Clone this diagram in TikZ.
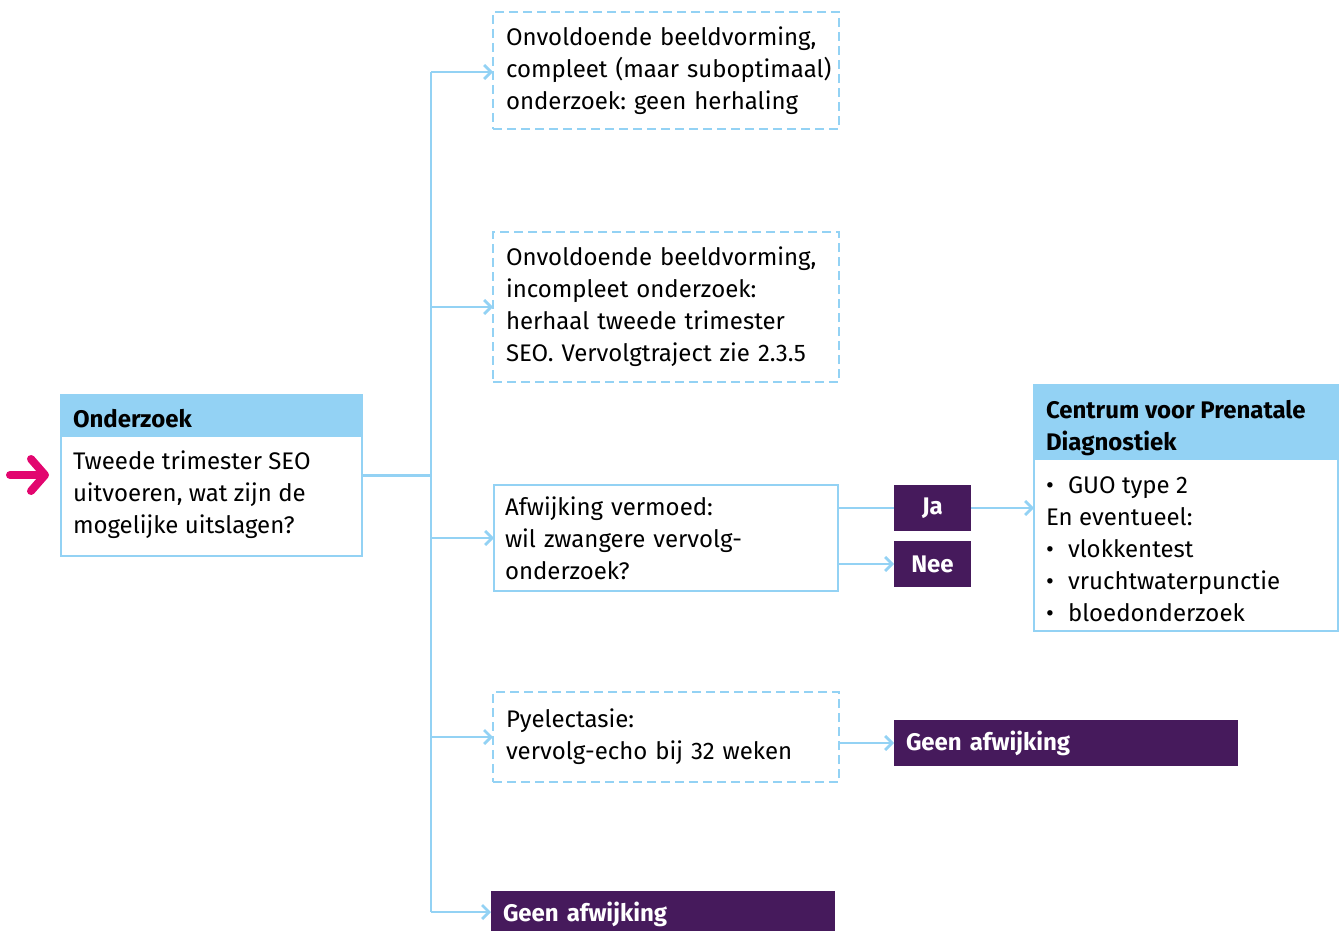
\documentclass[tikz,border=0pt]{standalone}
\usepackage{fontspec}
\setmainfont{Fira Sans}
\usetikzlibrary{arrows.meta}
\definecolor{lblue}{HTML}{93D2F4}
\definecolor{purp}{HTML}{461A5C}
\definecolor{pinkc}{HTML}{E2066F}
\begin{document}
\frenchspacing
\begin{tikzpicture}[x=0.5pt,y=-0.5pt,
  every node/.style={font=\fontsize{12}{16}\selectfont, inner sep=0pt, outer sep=0pt},
  conn/.style={draw=lblue, line width=1.4pt},
  arr/.style={conn, -{Straight Barb[length=3.5pt,width=7pt]}},
  dbox/.style={draw=lblue, line width=1.1pt, dash pattern=on 4.5pt off 2.5pt, anchor=north west,
    minimum width=173pt, text width=160pt, inner xsep=6.5pt, align=left},
  sbox/.style={draw=lblue, line width=0.8pt, anchor=north west, align=left},
  hdr/.style={fill=lblue, anchor=north west},
  htxt/.style={anchor=north west, align=left, font=\fontsize{12}{16}\selectfont\bfseries},
  btxt/.style={anchor=north west, align=left},
  pbox/.style={fill=purp, text=white, anchor=north west, minimum height=23pt, font=\fontsize{12}{16}\selectfont\bfseries}
]
\useasboundingbox (0,0) rectangle (1343,931);

% Onderzoek box
\node[sbox, minimum width=150.5pt, minimum height=80.5pt] (ond) at (61,395) {};
\node[hdr, minimum width=150.5pt, minimum height=21pt] (ondh) at (61,395) {};
\node[htxt] (ondht) at (73,409) {Onderzoek};
\node[btxt] (ondt) at (73,451) {Tweede trimester SEO\\uitvoeren, wat zijn de\\mogelijke uitslagen?};
\draw[sbox] (ond.north west) rectangle (ond.south east);

% incoming pink arrow
\coordinate (pstart) at (10,475);
\draw[pinkc, line width=4pt, line cap=round, -{Straight Barb[length=7pt,width=16pt,round]}, shorten >=6pt] (pstart) -- (ond.west |- pstart);

% dashed boxes
\node[dbox, minimum height=58.5pt] (b1) at (493,12) {Onvoldoende beeldvorming,\\\mbox{compleet (maar suboptimaal)}\\onderzoek: geen herhaling};
\node[dbox, minimum height=75pt] (b2) at (493,232) {Onvoldoende beeldvorming,\\incompleet onderzoek:\\herhaal tweede trimester\\SEO. Vervolgtraject zie 2.3.5};
\node[sbox, minimum width=172pt, minimum height=53pt, text width=161pt, inner xsep=5.5pt] (b3) at (494,485) {Afwijking vermoed:\\wil zwangere vervolg-\\onderzoek?};
\node[dbox, minimum height=45pt] (b4) at (493,692) {Pyelectasie:\\vervolg-echo bij 32 weken};

% purple boxes
\node[pbox, minimum width=38.5pt, align=center] (ja) at (894,485) {Ja};
\node[pbox, minimum width=38.5pt, align=center] (nee) at (894,541) {Nee};
\node[pbox, minimum width=172pt, text width=160pt, inner xsep=6pt, align=left] (g1) at (894,720) {Geen afwijking};
\node[pbox, minimum width=172pt, text width=160pt, inner xsep=6pt, align=left, yshift=-1pt] (g2) at (491,889) {Geen afwijking};

% CPD box
\node[sbox, minimum width=152pt, minimum height=123pt] (cpd) at (1034,385) {};
\node[hdr, minimum width=152pt, minimum height=37.5pt] (cpdh) at (1034,385) {};
\node[htxt] (cpdht) at (1046,400) {Centrum voor Prenatale\\Diagnostiek};
\node[btxt] (cpdt) at (1046,477) {\makebox[11pt][l]{\textbullet}GUO type 2\\En eventueel:\\\makebox[11pt][l]{\textbullet}vlokkentest\\\makebox[11pt][l]{\textbullet}vruchtwaterpunctie\\\makebox[11pt][l]{\textbullet}bloedonderzoek};
\draw[sbox] (cpd.north west) rectangle (cpd.south east);

% trunk
\coordinate (tTop) at (431,72);
\coordinate (tBot) at (431,912);
\draw[conn] (tTop) -- (tBot);
\draw[conn] (ond.east) -- (ond.east -| tTop);
\draw[arr] (tTop) -- (tTop -| b1.west);
\draw[arr] (b2.west -| tTop) -- (b2.west);
\draw[arr] (b3.west -| tTop) -- (b3.west);
\draw[arr] (b4.west -| tTop) -- (b4.west);
\draw[arr] (tBot) -- (tBot -| g2.west);

% right side
\draw[conn] (ja.west -| b3.east) -- (ja.west);
\draw[arr] (nee.west -| b3.east) -- (nee.west);
\draw[arr] (ja.east) -- (ja.east -| cpd.west);
\draw[arr] (g1.west -| b4.east) -- (g1.west);
\end{tikzpicture}
\end{document}
